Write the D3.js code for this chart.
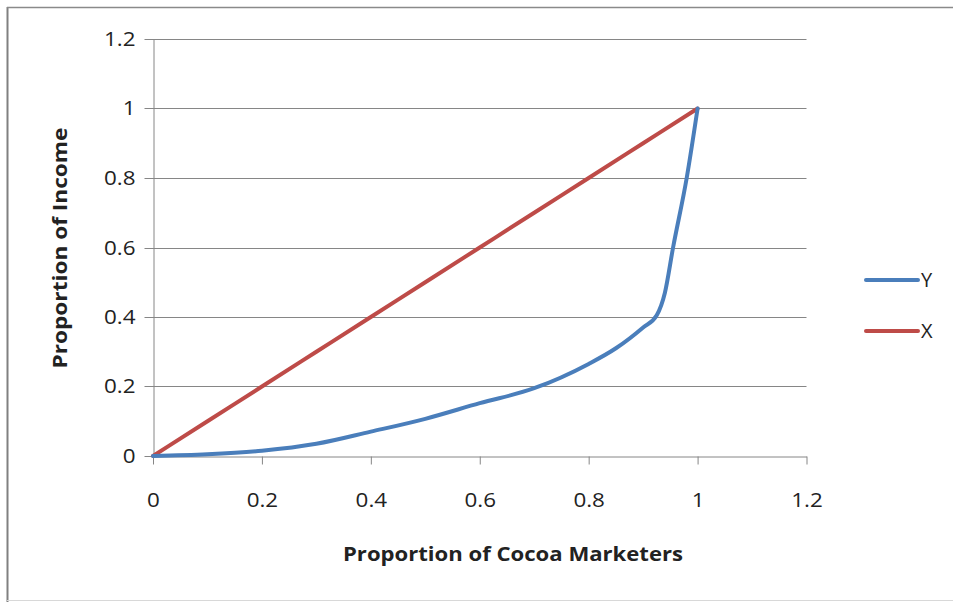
<!DOCTYPE html>
<html>
<head>
<meta charset="utf-8">
<script src="https://cdn.jsdelivr.net/npm/d3@7"></script>
<style>
  html, body { margin: 0; padding: 0; background: #fff; }
  svg { display: block; }
  text { font-family: "Open Sans", "Liberation Sans", sans-serif; fill: #222; }
</style>
</head>
<body>
<script>
// ---- data ----
const xTicks = [0, 0.2, 0.4, 0.6, 0.8, 1, 1.2];
const yTicks = [0, 0.2, 0.4, 0.6, 0.8, 1, 1.2];
const seriesNames = ["Y", "X"];
// Series Y (Lorenz curve)
const yX = [0, 0.1, 0.2, 0.3, 0.4, 0.5, 0.6, 0.7, 0.8, 0.85, 0.9, 0.925, 0.94, 0.955, 0.98, 1];
const yY = [0, 0.005, 0.015, 0.035, 0.07, 0.107, 0.152, 0.195, 0.265, 0.31, 0.37, 0.405, 0.47, 0.6, 0.8, 1];
// Series X (line of equality)
const xX = [0, 0.1, 0.2, 0.3, 0.4, 0.5, 0.6, 0.7, 0.8, 0.9, 1];
const xY = [0, 0.1, 0.2, 0.3, 0.4, 0.5, 0.6, 0.7, 0.8, 0.9, 1];
const xTitle = "Proportion of Cocoa Marketers";
const yTitle = "Proportion of Income";

const W = 953, H = 602;
const svg = d3.select("body").append("svg").attr("width", W).attr("height", H);

// frame
svg.append("line").attr("x1", 7.5).attr("x2", 7.5).attr("y1", 7).attr("y2", H)
  .attr("stroke", "#808080").attr("stroke-width", 2);
svg.append("line").attr("x1", 7).attr("x2", W).attr("y1", 7.5).attr("y2", 7.5)
  .attr("stroke", "#8a8a8a").attr("stroke-width", 1.5);
svg.append("line").attr("x1", 7).attr("x2", W).attr("y1", 600.5).attr("y2", 600.5)
  .attr("stroke", "#d8d8d8").attr("stroke-width", 1);

const x = d3.scaleLinear().domain([0, 1.2]).range([153, 806.5]);
const y = d3.scaleLinear().domain([0, 1.2]).range([456, 39]);

const gridColor = "#868686";

// horizontal gridlines
svg.append("g").selectAll("line").data(yTicks.filter(d => d > 0)).join("line")
  .attr("x1", x(0)).attr("x2", x(1.2))
  .attr("y1", d => Math.round(y(d)) + 0.5).attr("y2", d => Math.round(y(d)) + 0.5)
  .attr("stroke", gridColor).attr("stroke-width", 1);

// y axis
const yAxis = d3.axisLeft(y).tickValues(yTicks).tickSizeOuter(0).tickSizeInner(9).tickPadding(9)
  .tickFormat(d3.format("~g"));
const gy = svg.append("g").attr("transform", `translate(${Math.round(x(0)) + 0.5},0)`).call(yAxis);
gy.select(".domain").attr("stroke", gridColor);
gy.selectAll(".tick line").attr("stroke", gridColor);
gy.selectAll(".tick").attr("transform", d => `translate(0,${Math.round(y(d)) + 0.5})`);
gy.selectAll(".tick text").attr("fill", "#222").style("font-size", "20px")
  .style("font-family", "'Open Sans', sans-serif");

// x axis
const xAxis = d3.axisBottom(x).tickValues(xTicks).tickSizeOuter(0).tickSizeInner(8).tickPadding(28)
  .tickFormat(d3.format("~g"));
const gx = svg.append("g").attr("transform", `translate(0,${Math.round(y(0)) + 0.5})`).call(xAxis);
gx.select(".domain").attr("stroke", gridColor);
gx.selectAll(".tick line").attr("stroke", gridColor);
gx.selectAll(".tick text").attr("fill", "#222").style("font-size", "20px")
  .style("font-family", "'Open Sans', sans-serif");

// widen tick labels slightly to match the reference's stretched look
svg.selectAll(".tick text").each(function() {
  const t = d3.select(this);
  const w = this.getComputedTextLength();
  t.attr("textLength", w * 1.12).attr("lengthAdjust", "spacingAndGlyphs");
});

// lines
const line = d3.line().x(d => x(d[0])).y(d => y(d[1])).curve(d3.curveMonotoneX);
const dataY = yX.map((v, i) => [v, yY[i]]);
const dataX = xX.map((v, i) => [v, xY[i]]);
const colors = { Y: "#4A7EBB", X: "#BE4B48" };

svg.append("path").datum(dataX).attr("d", line).attr("fill", "none")
  .attr("stroke", colors.X).attr("stroke-width", 4).attr("stroke-linecap", "round").attr("stroke-linejoin", "round");
svg.append("path").datum(dataY).attr("d", line).attr("fill", "none")
  .attr("stroke", colors.Y).attr("stroke-width", 4).attr("stroke-linecap", "round").attr("stroke-linejoin", "round");

// axis titles
const xt = svg.append("text").attr("x", 513).attr("y", 561).attr("text-anchor", "middle")
  .style("font-size", "20px").style("font-weight", "bold").text(xTitle);
xt.attr("textLength", 340).attr("lengthAdjust", "spacingAndGlyphs");

const yt = svg.append("text").attr("transform", "translate(67,248) rotate(-90)")
  .attr("text-anchor", "middle").style("font-size", "20px").style("font-weight", "bold").text(yTitle);
yt.attr("textLength", 241).attr("lengthAdjust", "spacingAndGlyphs");

// legend
const legendY = [280, 331];
seriesNames.forEach((name, i) => {
  const g = svg.append("g");
  g.append("line").attr("x1", 866).attr("x2", 918).attr("y1", legendY[i]).attr("y2", legendY[i])
    .attr("stroke", colors[name]).attr("stroke-width", 4).attr("stroke-linecap", "round");
  g.append("text").attr("x", 921).attr("y", legendY[i] + 7).style("font-size", "20px").text(name);
});
</script>
</body>
</html>
